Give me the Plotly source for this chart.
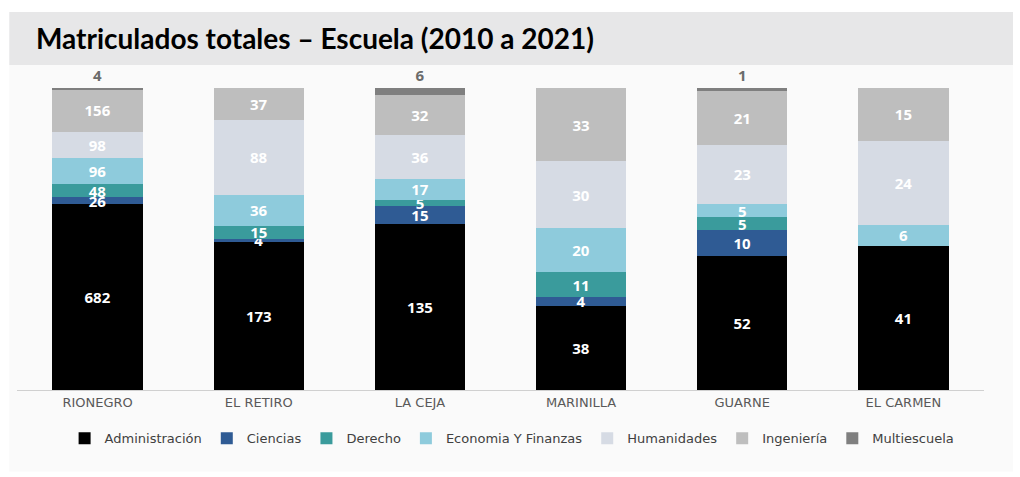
import plotly.graph_objects as go

categories = ["RIONEGRO", "EL RETIRO", "LA CEJA", "MARINILLA", "GUARNE", "EL CARMEN"]
administracion = [682, 173, 135, 38, 52, 41]
ciencias = [26, 4, 15, 4, 10, None]
derecho = [48, 15, 5, 11, 5, None]
economia = [96, 36, 17, 20, 5, 6]
humanidades = [98, 88, 36, 30, 23, 24]
ingenieria = [156, 37, 32, 33, 21, 15]
multiescuela = [4, None, 6, None, 1, None]

series = [
    ("Administración", administracion, "#000000"),
    ("Ciencias", ciencias, "#2f5b94"),
    ("Derecho", derecho, "#3a9b9c"),
    ("Economia Y Finanzas", economia, "#8ecbdc"),
    ("Humanidades", humanidades, "#d6dbe4"),
    ("Ingeniería", ingenieria, "#bebebe"),
    ("Multiescuela", multiescuela, "#7f7f7f"),
]

FONT = "Open Sans"
fig = go.Figure()
for name, vals, color in series:
    is_top = name == "Multiescuela"
    fig.add_trace(go.Bar(
        name=name, x=categories, y=vals,
        marker=dict(color=color, line=dict(width=0)),
        text=[("" if v is None else str(v)) for v in vals],
        textposition="outside" if is_top else "inside",
        insidetextanchor="middle",
        textangle=0,
        constraintext="none",
        textfont=dict(family=FONT, size=15,
                      color="#6b6b6b" if is_top else "white", weight="bold"),
        cliponaxis=False,
        hoverinfo="skip",
    ))

fig.update_layout(
    barmode="stack", barnorm="percent", bargap=0.44,
    width=1020, height=477,
    margin=dict(l=17, r=36, t=88, b=87),
    paper_bgcolor="white", plot_bgcolor="rgba(0,0,0,0)",
    font=dict(family=FONT, color="#595959"),
    showlegend=True,
    legend=dict(orientation="h", x=0.512, xanchor="center", y=-0.11, yanchor="top",
                font=dict(family="DejaVu Sans", size=13, color="#404040"),
                traceorder="normal", itemwidth=30, bgcolor="rgba(0,0,0,0)"),
    xaxis=dict(showline=True, linecolor="#d0d0d0", linewidth=1, ticks="",
               tickfont=dict(family="DejaVu Sans", size=13, color="#595959"),
               fixedrange=True),
    yaxis=dict(range=[0, 100], visible=False, showgrid=False),
    shapes=[
        dict(type="rect", xref="paper", yref="paper", layer="below",
             x0=-0.008, x1=1.03, y0=-0.27, y1=1.076,
             fillcolor="#fafafa", line=dict(width=0)),
        dict(type="rect", xref="paper", yref="paper", layer="below",
             x0=-0.008, x1=1.03, y0=1.076, y1=1.252,
             fillcolor="#e7e7e8", line=dict(width=0)),
    ],
    annotations=[
        dict(text="<b>Matriculados totales – Escuela (2010 a 2021)</b>",
             xref="paper", yref="paper", x=0.018, y=1.165, xanchor="left", yanchor="middle",
             showarrow=False, font=dict(family="Lato", size=28, color="#000000")),
    ],
)

fig.write_html("out.html")
